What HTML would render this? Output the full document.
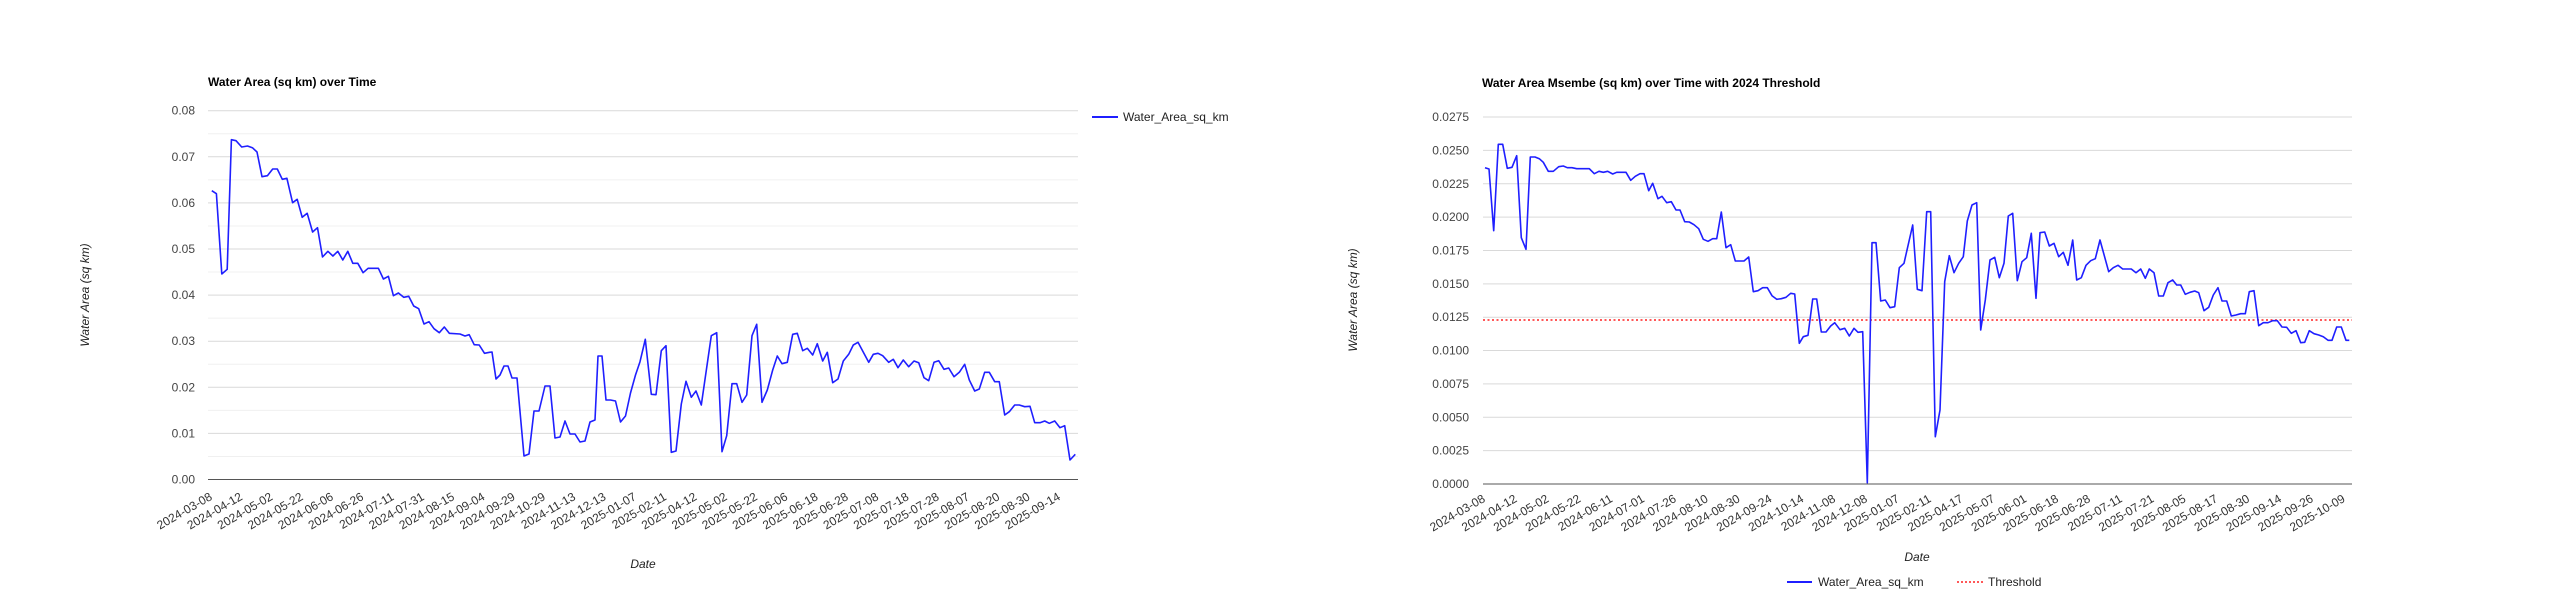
<!DOCTYPE html>
<html><head><meta charset="utf-8"><style>
html,body{margin:0;padding:0;background:#fff;}
svg{display:block;font-family:"Liberation Sans",Arial,sans-serif;}
</style></head><body>
<svg id="s" width="2560" height="599" viewBox="0 0 2560 599" xmlns="http://www.w3.org/2000/svg">
<rect width="2560" height="599" fill="#fff"/>
<g id="grid"></g>
<text x="208" y="86" font-size="12" font-weight="bold" fill="#000">Water Area (sq km) over Time</text>
<text x="1482" y="87" font-size="12" font-weight="bold" fill="#000">Water Area Msembe (sq km) over Time with 2024 Threshold</text>
<text transform="translate(89,295) rotate(-90)" text-anchor="middle" font-size="12" font-style="italic" fill="#222">Water Area (sq km)</text>
<text transform="translate(1357,300) rotate(-90)" text-anchor="middle" font-size="12" font-style="italic" fill="#222">Water Area (sq km)</text>
<text x="643" y="568" text-anchor="middle" font-size="12" font-style="italic" fill="#222">Date</text>
<text x="1917" y="561" text-anchor="middle" font-size="12" font-style="italic" fill="#222">Date</text>
<line x1="1092" y1="117" x2="1118" y2="117" stroke="#1f1fff" stroke-width="2"/>
<text x="1123" y="121" font-size="12" fill="#222">Water_Area_sq_km</text>
<line x1="1787" y1="582" x2="1812" y2="582" stroke="#1f1fff" stroke-width="2"/>
<text x="1818" y="586" font-size="12" fill="#222">Water_Area_sq_km</text>
<line x1="1957" y1="582" x2="1983" y2="582" stroke="#ff2020" stroke-width="1.5" stroke-dasharray="2,2"/>
<text x="1988" y="586" font-size="12" fill="#222">Threshold</text>
<line x1="1483" y1="320" x2="2352" y2="320" stroke="#ff2020" stroke-width="1.5" stroke-dasharray="2,2.5"/>
<polyline id="L" fill="none" stroke="#1f1fff" stroke-width="1.6" stroke-linejoin="round"/>
<polyline id="R" fill="none" stroke="#1f1fff" stroke-width="1.6" stroke-linejoin="round"/>
</svg>
<script>
var NS="http://www.w3.org/2000/svg",g=document.getElementById("grid");
function el(t,a,txt){var e=document.createElementNS(NS,t);for(var k in a)e.setAttribute(k,a[k]);if(txt!=null)e.textContent=txt;g.appendChild(e);return e;}
// Left grid
for(var k=0;k<=16;k++){var y=479.5-k*23.05;if(k%2==1)el("line",{x1:208,x2:1078,y1:y,y2:y,stroke:"#f0f0f0","stroke-width":1});}
for(var k=0;k<=8;k++){var y=479.5-k*46.1;el("line",{x1:208,x2:1078,y1:y,y2:y,stroke:k==0?"#555":"#d9d9d9","stroke-width":1});
el("text",{x:195,y:y+4,"text-anchor":"end","font-size":12,fill:"#444"},(k/100).toFixed(2));}
// Right grid
for(var k=0;k<=11;k++){var y=484-k*33.36;el("line",{x1:1483,x2:2352,y1:y,y2:y,stroke:k==0?"#555":"#d9d9d9","stroke-width":1});
el("text",{x:1469,y:y+4,"text-anchor":"end","font-size":12,fill:"#444"},(k*0.0025).toFixed(4));}
// X labels
var ll=["2024-03-08","2024-04-12","2024-05-02","2024-05-22","2024-06-06","2024-06-26","2024-07-11","2024-07-31","2024-08-15","2024-09-04","2024-09-29","2024-10-29","2024-11-13","2024-12-13","2025-01-07","2025-02-11","2025-04-12","2025-05-02","2025-05-22","2025-06-06","2025-06-18","2025-06-28","2025-07-08","2025-07-18","2025-07-28","2025-08-07","2025-08-20","2025-08-30","2025-09-14"];
for(var i=0;i<ll.length;i++){var x=213+i*30.29,y=499;el("text",{x:x,y:y,"text-anchor":"end","font-size":12,fill:"#333",transform:"rotate(-30 "+x+" "+y+")"},ll[i]);}
var rl=["2024-03-08","2024-04-12","2024-05-02","2024-05-22","2024-06-11","2024-07-01","2024-07-26","2024-08-10","2024-08-30","2024-09-24","2024-10-14","2024-11-08","2024-12-08","2025-01-07","2025-02-11","2025-04-17","2025-05-07","2025-06-01","2025-06-18","2025-06-28","2025-07-11","2025-07-21","2025-08-05","2025-08-17","2025-08-30","2025-09-14","2025-09-26","2025-10-09"];
for(var i=0;i<rl.length;i++){var x=1486+i*31.85,y=501;el("text",{x:x,y:y,"text-anchor":"end","font-size":12,fill:"#333",transform:"rotate(-30 "+x+" "+y+")"},rl[i]);}
// Left series
var z1=[[292,452],[304,461],[318,702],[332,688],[343,299],[355,302],[370,321],[385,318],[398,323],[410,336],[423,410],[437,407],[451,387],[463,387],[476,418],[488,415],[503,488],[515,478],[528,532],[541,520],[555,576],[568,563],[581,651],[595,634],[608,648],[621,634],[634,660],[647,634],[660,670],[673,670],[687,698],[700,685],[727,685],[740,717],[753,709],[766,767],[779,759],[793,772],[806,769],[819,798],[832,806],[846,852],[859,845],[872,866],[886,878],[899,861],[912,880],[940,882],[953,888],[964,884],[977,914],[990,915],[1004,940],[1017,937]];
var P=[];z1.forEach(function(p){P.push([100+p[0]*0.383,40+p[1]/3]);});
[[492,352],[496,379],[500,375],[504,366],[508,366],[512,378],[517,378],[524,456],[529,454],[534,411],[539,411],[545,386],[550,386],[555,438],[560,437],[565,421],[570,434],[575,434],[580,442],[585,441],[590,422],[595,420],[598,356],[602,356],[606,400],[610.5,400],[615.5,401],[620.5,422],[625.5,416],[630.5,393],[635.5,375]].forEach(function(p){P.push(p);});
var z6=[[0,185],[16,118],[34,283],[48,284],[64,152],[78,137],[94,457],[108,453],[124,312],[138,244],[154,292],[168,273],[184,315],[214,107],[230,98],[246,455],[260,407],[276,251],[290,251],[306,307],[320,285],[336,107],[350,73],[366,307],[382,270],[398,210],[412,168],[426,191],[442,187],[458,103],[472,100],[488,152],[502,145],[518,165],[532,131],[548,183],[562,157],[578,248],[594,237],[610,183],[626,163],[640,135],[654,127],[686,187],[700,163],[714,160],[728,167],[746,187],[760,178],[774,203],[790,180],[806,200],[822,183],[836,188],[852,233],[866,242],[882,187],[896,182],[912,208],[926,204],[942,230],[958,217],[974,193],[988,240],[1004,273],[1018,267],[1034,217],[1048,217],[1064,245],[1078,245],[1094,345],[1108,335],[1124,315],[1138,315],[1154,320],[1170,319],[1184,368],[1200,368],[1214,363],[1228,370],[1244,363],[1260,383],[1274,377],[1290,480],[1306,463]];
z6.forEach(function(p){P.push([640+p[0]/3,300+p[1]/3]);});
document.getElementById("L").setAttribute("points",P.map(function(p){return p[0].toFixed(1)+","+p[1].toFixed(1);}).join(" "));
// Right series
var z7=[[15,173],[27,177],[41,362],[55,103],[68,103],[82,175],[96,172],[110,137],[124,383],[138,418],[151,141],[165,141],[178,146],[190,157],[205,184],[220,184],[236,170],[250,168],[262,173],[276,173],[290,176],[328,176],[343,191],[357,184],[370,187],[383,184],[398,192],[410,187],[438,187],[452,211],[466,199],[480,191],[492,191],[506,242],[518,220],[534,266],[546,259],[560,278],[574,275],[588,300],[600,300],[614,335],[628,336],[642,344],[656,356],[670,388],[684,394],[698,386],[710,386],[724,306],[738,413],[752,404],[766,453],[792,453],[806,441],[820,545],[834,542],[848,533],[862,533],[876,557],[890,568],[904,566],[918,562],[932,550],[944,552],[958,700],[970,680],[984,676],[998,567],[1010,567],[1024,666],[1038,666],[1052,648],[1064,638],[1080,659],[1094,655],[1108,678],[1122,655],[1134,667],[1148,665],[1162,1118],[1176,398],[1188,398],[1202,573],[1216,570],[1230,593],[1244,590],[1258,473],[1272,460],[1298,345],[1312,538]];
var Q=[];z7.forEach(function(p){Q.push([1480+p[0]/3,110+p[1]/3]);});
var z8=[[36,542],[50,305],[62,305],[76,980],[90,900],[104,515],[118,437],[132,488],[146,460],[160,440],[172,333],[186,285],[200,278],[212,660],[226,570],[240,450],[254,442],[268,503],[282,460],[295,318],[308,310],[322,512],[336,455],[350,443],[364,370],[378,565],[390,368],[404,366],[418,408],[432,400],[446,440],[460,427],[474,466],[488,390],[500,510],[514,503],[528,466],[542,452],[556,446],[570,390],[596,485],[610,473],[624,466],[638,477],[664,477],[678,488],[692,477],[706,505],[718,477],[732,488],[746,558],[760,558],[774,518],[788,510],[800,525],[812,525],[826,553],[840,547],[854,543],[866,548],[882,602],[896,592],[910,555],[924,533],[936,573],[950,573],[964,618],[978,615],[992,611],[1006,611],[1018,545],[1032,542],[1046,647],[1060,638],[1074,638],[1088,632],[1102,632],[1116,651],[1130,652],[1144,670],[1158,662],[1172,698],[1184,697],[1198,662],[1212,671],[1226,675],[1240,680],[1254,691],[1266,691],[1280,651],[1294,651],[1308,691],[1318,691]];
z8.forEach(function(p){Q.push([1910+p[0]/3,110+p[1]/3]);});
document.getElementById("R").setAttribute("points",Q.map(function(p){return p[0].toFixed(1)+","+p[1].toFixed(1);}).join(" "));
</script>
</body></html>
